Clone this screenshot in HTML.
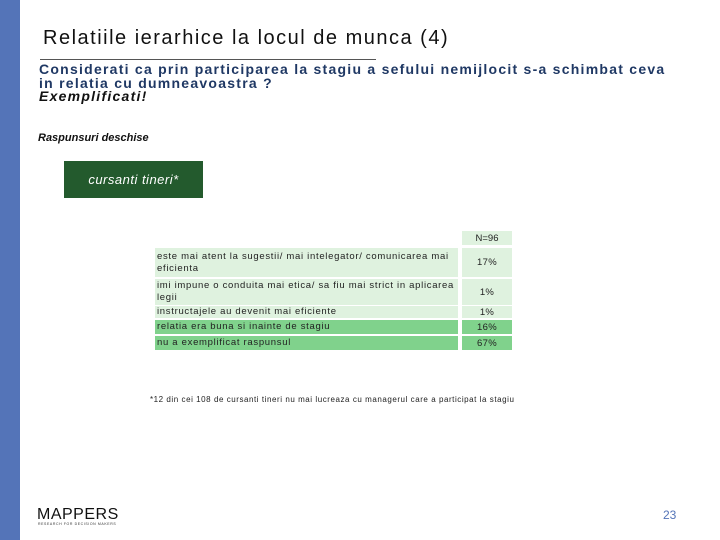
<!DOCTYPE html>
<html><head><meta charset="utf-8"><style>
body{margin:0;width:720px;height:540px;position:relative;background:#fff;overflow:hidden;font-family:"Liberation Sans",sans-serif}
.a{position:absolute}
.row{position:absolute;left:155px;width:357px;font-size:9.5px;color:#222;letter-spacing:0.7px}
.lab{position:absolute;left:0;width:303px;top:0;bottom:0;padding-left:2px;padding-right:2px;box-sizing:border-box;display:flex;align-items:center;line-height:12px}
.val{position:absolute;left:307px;width:50px;top:0;bottom:0;display:flex;align-items:center;justify-content:center;letter-spacing:0.3px}
.l{background:#dff2df}.d{background:#80d28c}
</style></head><body>
<div class="a" style="left:0;top:0;width:20px;height:540px;background:#5474b8"></div>
<div class="a" style="left:43px;top:27px;font-size:20px;color:#111;letter-spacing:1.5px;white-space:nowrap">Relatiile ierarhice la locul de munca (4)</div>
<div class="a" style="left:40px;top:59px;width:336px;height:1px;background:#555"></div>
<div class="a" style="left:39px;top:63px;font-size:14px;font-weight:bold;color:#1f3864;line-height:13.5px;white-space:nowrap;letter-spacing:1.25px">Considerati ca prin participarea la stagiu a sefului nemijlocit s-a schimbat ceva<br>in relatia cu dumneavoastra ?<br><i style="color:#111">Exemplificati!</i></div>
<div class="a" style="left:38px;top:132px;font-size:11px;font-style:italic;font-weight:bold;color:#111">Raspunsuri deschise</div>
<div class="a" style="left:64px;top:161px;width:139px;height:37px;background:#235a2d;color:#fff;font-size:13px;font-style:italic;display:flex;align-items:center;justify-content:center;letter-spacing:0.5px">cursanti tineri*</div>
<div class="a" style="left:462px;top:231px;width:50px;height:14px;background:#dff2df;font-size:9.5px;display:flex;align-items:center;justify-content:center;color:#222">N=96</div>
<div class="row" style="top:248px;height:29px"><div class="lab l">este mai atent la sugestii/ mai intelegator/ comunicarea mai eficienta</div><div class="val l">17%</div></div>
<div class="row" style="top:279px;height:26px"><div class="lab l">imi impune o conduita mai etica/ sa fiu mai strict in aplicarea legii</div><div class="val l">1%</div></div>
<div class="row" style="top:306px;height:12px"><div class="lab l">instructajele au devenit mai eficiente</div><div class="val l">1%</div></div>
<div class="row" style="top:320px;height:14px"><div class="lab d">relatia era buna si inainte de stagiu</div><div class="val d">16%</div></div>
<div class="row" style="top:336px;height:14px"><div class="lab d">nu a exemplificat raspunsul</div><div class="val d">67%</div></div>
<div class="a" style="left:150px;top:395px;font-size:8px;color:#222;letter-spacing:0.55px;white-space:nowrap">*12 din cei 108 de cursanti tineri nu mai lucreaza cu managerul care a participat la stagiu</div>
<div class="a" style="left:37px;top:506px;font-size:16px;letter-spacing:0.5px;color:#111">MAPPERS</div>
<div class="a" style="left:38px;top:522px;font-size:3.5px;letter-spacing:0.6px;color:#333">RESEARCH FOR DECISION MAKERS</div>
<div class="a" style="left:663px;top:508px;font-size:12px;color:#5474b8">23</div>
</body></html>
